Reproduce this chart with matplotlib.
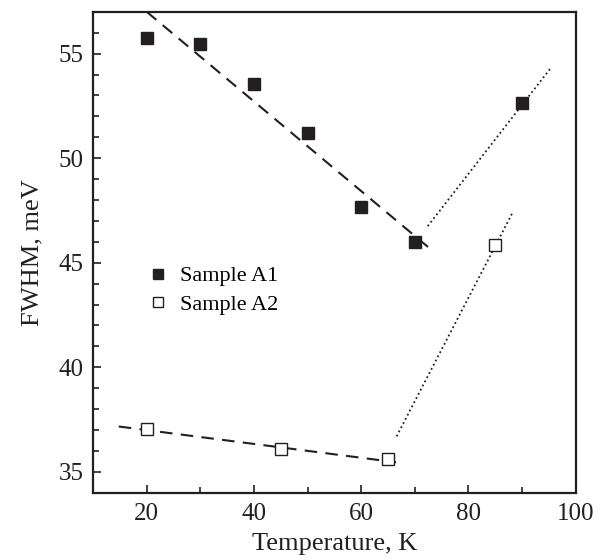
import numpy as np
import matplotlib
matplotlib.use("Agg")
import matplotlib.pyplot as plt
from matplotlib.ticker import MultipleLocator

# Data
temp_a1 = [20, 30, 40, 50, 60, 70, 90]
fwhm_a1 = [55.75, 55.45, 53.54, 51.19, 47.65, 45.98, 52.65]

temp_a2 = [20, 45, 65, 85]
fwhm_a2 = [37.05, 36.1, 35.63, 45.83]

# Guide lines (end points)
a1_low_x = [20, 72.8]
a1_low_y = [57.0, 45.68]
a1_high_x = [72.4, 95.4]
a1_high_y = [46.75, 54.33]

a2_low_x = [14.8, 66.5]
a2_low_y = [37.17, 35.46]
a2_high_x = [66.6, 88.2]
a2_high_y = [36.7, 47.39]

ink = "#231f20"
plt.rcParams["font.family"] = ["Liberation Serif", "DejaVu Serif"]
plt.rcParams["font.size"] = 18

fig = plt.figure(figsize=(6.08, 5.60), dpi=100)
ax = fig.add_axes([0.153, 0.12, 0.794, 0.859])

# fit lines
ax.plot(a1_low_x, a1_low_y, color=ink, lw=1.5, dashes=(6, 4))
ax.plot(a1_high_x, a1_high_y, color=ink, lw=1.3, linestyle=(0, (1, 1.6)))
ax.plot(a2_low_x, a2_low_y, color=ink, lw=1.5, dashes=(6, 4))
ax.plot(a2_high_x, a2_high_y, color=ink, lw=1.3, linestyle=(0, (1, 1.6)))

# points
ax.plot(temp_a1, fwhm_a1, "s", ms=8.5, color=ink, mec=ink, label="Sample A1", zorder=3)
ax.plot(temp_a2, fwhm_a2, "s", ms=8.5, mfc="white", mec=ink, mew=1.0, label="Sample A2", zorder=3)

ax.set_xlim(10, 100)
ax.set_ylim(34, 57)
ax.xaxis.set_major_locator(MultipleLocator(20))
ax.xaxis.set_minor_locator(MultipleLocator(10))
ax.yaxis.set_major_locator(MultipleLocator(5))
ax.yaxis.set_minor_locator(MultipleLocator(1))
ax.tick_params(which="both", direction="in", colors=ink, width=1.2, labelcolor=ink, labelsize=18)
ax.tick_params(which="major", length=6, pad=7)
ax.tick_params(which="minor", length=4)
for s in ax.spines.values():
    s.set_linewidth(1.6)
    s.set_color(ink)

ax.set_xlabel("Temperature, K", color=ink, fontsize=19, labelpad=6)
ax.set_ylabel("FWHM, meV", color=ink, fontsize=19, labelpad=11)

ax.legend(loc="center left", bbox_to_anchor=(0.112, 0.421), frameon=False,
          fontsize=16, handlelength=1.0, handletextpad=0.5, borderpad=0,
          borderaxespad=0, labelspacing=0.35, markerscale=0.85)

fig.savefig("out.png", dpi=100)
